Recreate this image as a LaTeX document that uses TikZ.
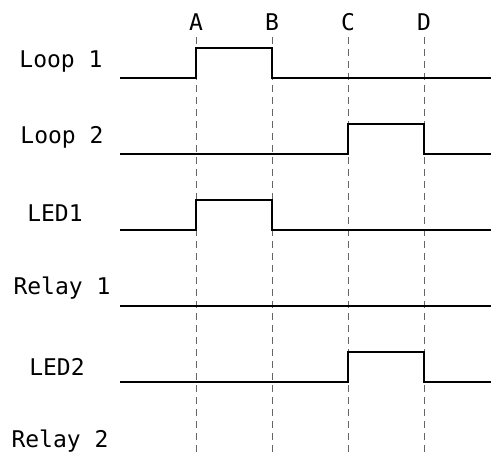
\documentclass[tikz,border=0pt]{standalone}
\usepackage{fontspec}
\setmonofont{DejaVu Sans Mono}
\begin{document}
\begin{tikzpicture}[x=1pt,y=-1pt,
  sig/.style={line width=2.4pt,line join=miter},
  guide/.style={black!60,line width=0.9pt,dash pattern=on 7pt off 5pt},
  lbl/.style={font=\ttfamily\fontsize{23}{25}\selectfont,inner sep=0pt},
  tlbl/.style={font=\ttfamily\fontsize{23}{25}\selectfont,inner sep=0pt}]
\useasboundingbox (0,0) rectangle (491,452);
% time marks
\foreach \n/\x in {A/196,B/272,C/348,D/424}{
  \node[tlbl] (t\n) at (\x,22) {\n};
  \coordinate (top\n) at (\x,37);
  \coordinate (bot\n) at (\x,452);
  \draw[guide] (top\n) -- (bot\n);
}
% labels
\node[lbl] (l1) at (61,62) {Loop 1};
\node[lbl] (l2) at (62,137) {Loop 2};
\node[lbl] (l3) at (55,213) {LED1};
\node[lbl] (l4) at (62,288) {Relay 1};
\node[lbl] (l5) at (57,367) {LED2};
\node[lbl] (l6) at (60,441) {Relay 2};
% waveforms
\draw[sig] (120,78) -- (196,78) -- (196,48) -- (272,48) -- (272,78) -- (491,78);
\draw[sig] (120,154) -- (348,154) -- (348,124) -- (424,124) -- (424,154) -- (491,154);
\draw[sig] (120,230) -- (196,230) -- (196,200) -- (272,200) -- (272,230) -- (491,230);
\draw[sig] (120,306) -- (491,306);
\draw[sig] (120,382) -- (348,382) -- (348,352) -- (424,352) -- (424,382) -- (491,382);
\end{tikzpicture}
\end{document}
